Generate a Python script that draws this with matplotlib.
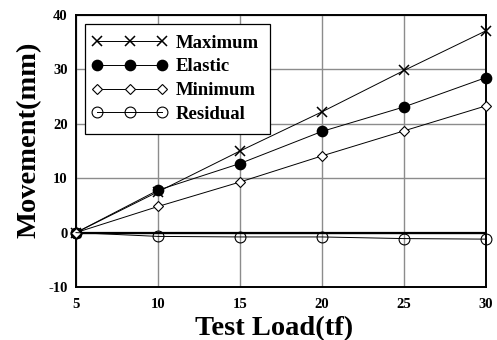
import matplotlib
matplotlib.use("Agg")
import matplotlib.pyplot as plt
from matplotlib.legend_handler import HandlerLine2D

# Test load steps (tf) and measured movements (mm)
load = [5, 10, 15, 20, 25, 30]
maximum = [0.0, 7.5, 15.0, 22.2, 29.8, 37.1]
elastic = [0.0, 7.8, 12.7, 18.6, 23.1, 28.5]
minimum = [0.0, 4.8, 9.3, 14.1, 18.7, 23.3]
residual = [0.0, -0.7, -0.8, -0.8, -1.1, -1.2]

xticks = [5, 10, 15, 20, 25, 30]
yticks = [-10, 0, 10, 20, 30, 40]

plt.rcParams["font.family"] = ["Liberation Serif", "DejaVu Serif"]
plt.rcParams["font.weight"] = "bold"
plt.rcParams["axes.unicode_minus"] = False

fig = plt.figure(figsize=(4.97, 3.40), dpi=100)
W, H = 497, 340
ax = fig.add_axes([76 / W, 1 - 287 / H, 410 / W, 272 / H])

ax.set_xlim(5, 30)
ax.set_ylim(-10, 40)
ax.set_xticks(xticks)
ax.set_yticks(yticks)
ax.grid(True, color="#8c8c8c", linewidth=1.0)
ax.set_axisbelow(True)
ax.axhline(0, color="black", linewidth=1.6, zorder=1.5)

lw = 0.7
ax.plot(load, maximum, color="black", lw=lw, marker="x", ms=7.2, mew=1.1,
        label="Maximum", clip_on=False, zorder=3)
ax.plot(load, elastic, color="black", lw=lw, marker="o", ms=7.4, mfc="black",
        label="Elastic", clip_on=False, zorder=3)
ax.plot(load, minimum, color="black", lw=lw, marker="D", ms=4.8, mfc="white",
        mew=0.8, label="Minimum", clip_on=False, zorder=3)
ax.plot(load, residual, color="black", lw=lw, marker="o", ms=7.8, mfc="none",
        mew=0.8, label="Residual", clip_on=False, zorder=3)

for side in ["left", "bottom", "right", "top"]:
    ax.spines[side].set_linewidth(1.4)
ax.tick_params(length=0, labelsize=10.5)
ax.tick_params(axis="x", pad=8)
ax.tick_params(axis="y", pad=6)
for lab in ax.get_xticklabels() + ax.get_yticklabels():
    lab.set_fontweight("bold")

ax.set_xlabel("Test Load(tf)", fontsize=20.5, fontweight="bold")
ax.set_ylabel("Movement(mm)", fontsize=20.5, fontweight="bold")
ax.xaxis.set_label_coords(0.483, -0.107)
ax.yaxis.set_label_coords(-0.085, 0.54)

handler = HandlerLine2D(marker_pad=0.06)
leg = ax.legend(loc="upper left", bbox_to_anchor=(0.022, 0.967), numpoints=3,
                handlelength=3.62, prop={"size": 13.5, "weight": "bold"},
                fancybox=False, framealpha=1, edgecolor="black",
                borderpad=0.57, labelspacing=0.35, handletextpad=0.67,
                borderaxespad=0,
                handler_map={l: handler for l in ax.get_lines()[1:]})
leg.get_frame().set_linewidth(0.9)

fig.savefig("out.png", dpi=100)
